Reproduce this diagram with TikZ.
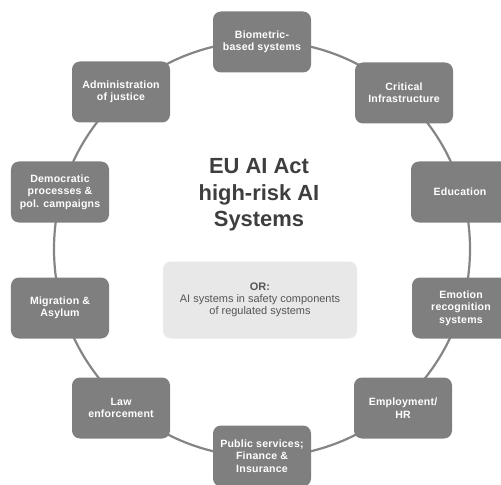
\documentclass[tikz,border=0pt]{standalone}
\usepackage{fontspec}
\setmainfont{Liberation Sans}
\newfontfamily\boxfont{Liberation Sans}[LetterSpace=2]
\definecolor{boxgray}{HTML}{7F7F7F}
\definecolor{ringgray}{HTML}{858585}
\definecolor{titlegray}{HTML}{3E3E3E}
\definecolor{orfill}{HTML}{E8E8E8}
\definecolor{ortext}{HTML}{555555}
\begin{document}
\begin{tikzpicture}[x=1bp,y=-1bp,
  area/.style={draw=none,fill=boxgray,rounded corners=8bp,minimum width=98bp,minimum height=61bp,
    inner sep=0pt,align=center,text=white,font=\boxfont\fontsize{10.6}{12.5}\selectfont\bfseries},
  ring/.style={draw=ringgray,line width=2.2bp}]
\useasboundingbox (0,0) rectangle (501,485);
\clip (0,0) rectangle (501,485);
\coordinate (ctr) at (262,249);
\draw[ring] (ctr) circle[radius=208bp];
\node[area] (bio) at (262,42) {Biometric-\\based systems};
\node[area] (crit) at (404,93) {Critical\\Infrastructure};
\node[area] (edu) at (460,192) {Education};
\node[area] (emo) at (461,308) {Emotion\\recognition\\systems};
\node[area] (emp) at (403,408) {Employment/\\HR};
\node[area] (pub) at (262,456) {Public services;\\Finance \&\\Insurance};
\node[area] (law) at (121,408) {Law\\enforcement};
\node[area] (mig) at (60,308) {Migration \&\\Asylum};
\node[area] (dem) at (60,192) {Democratic\\processes \&\\pol. campaigns};
\node[area] (adm) at (121,92) {Administration\\of justice};
\node[align=center,text=titlegray,font=\fontsize{22}{26.5}\selectfont\bfseries] (title) at (259,195)
  {EU AI Act\\high-risk AI\\Systems};
\node[fill=orfill,rounded corners=8bp,minimum width=194bp,minimum height=77bp,inner sep=0pt,
  align=center,text=ortext,font=\fontsize{11}{11.8}\selectfont] (or) at (260,300)
  {\textbf{OR:}\\AI systems in safety components\\of regulated systems};
\end{tikzpicture}
\end{document}
